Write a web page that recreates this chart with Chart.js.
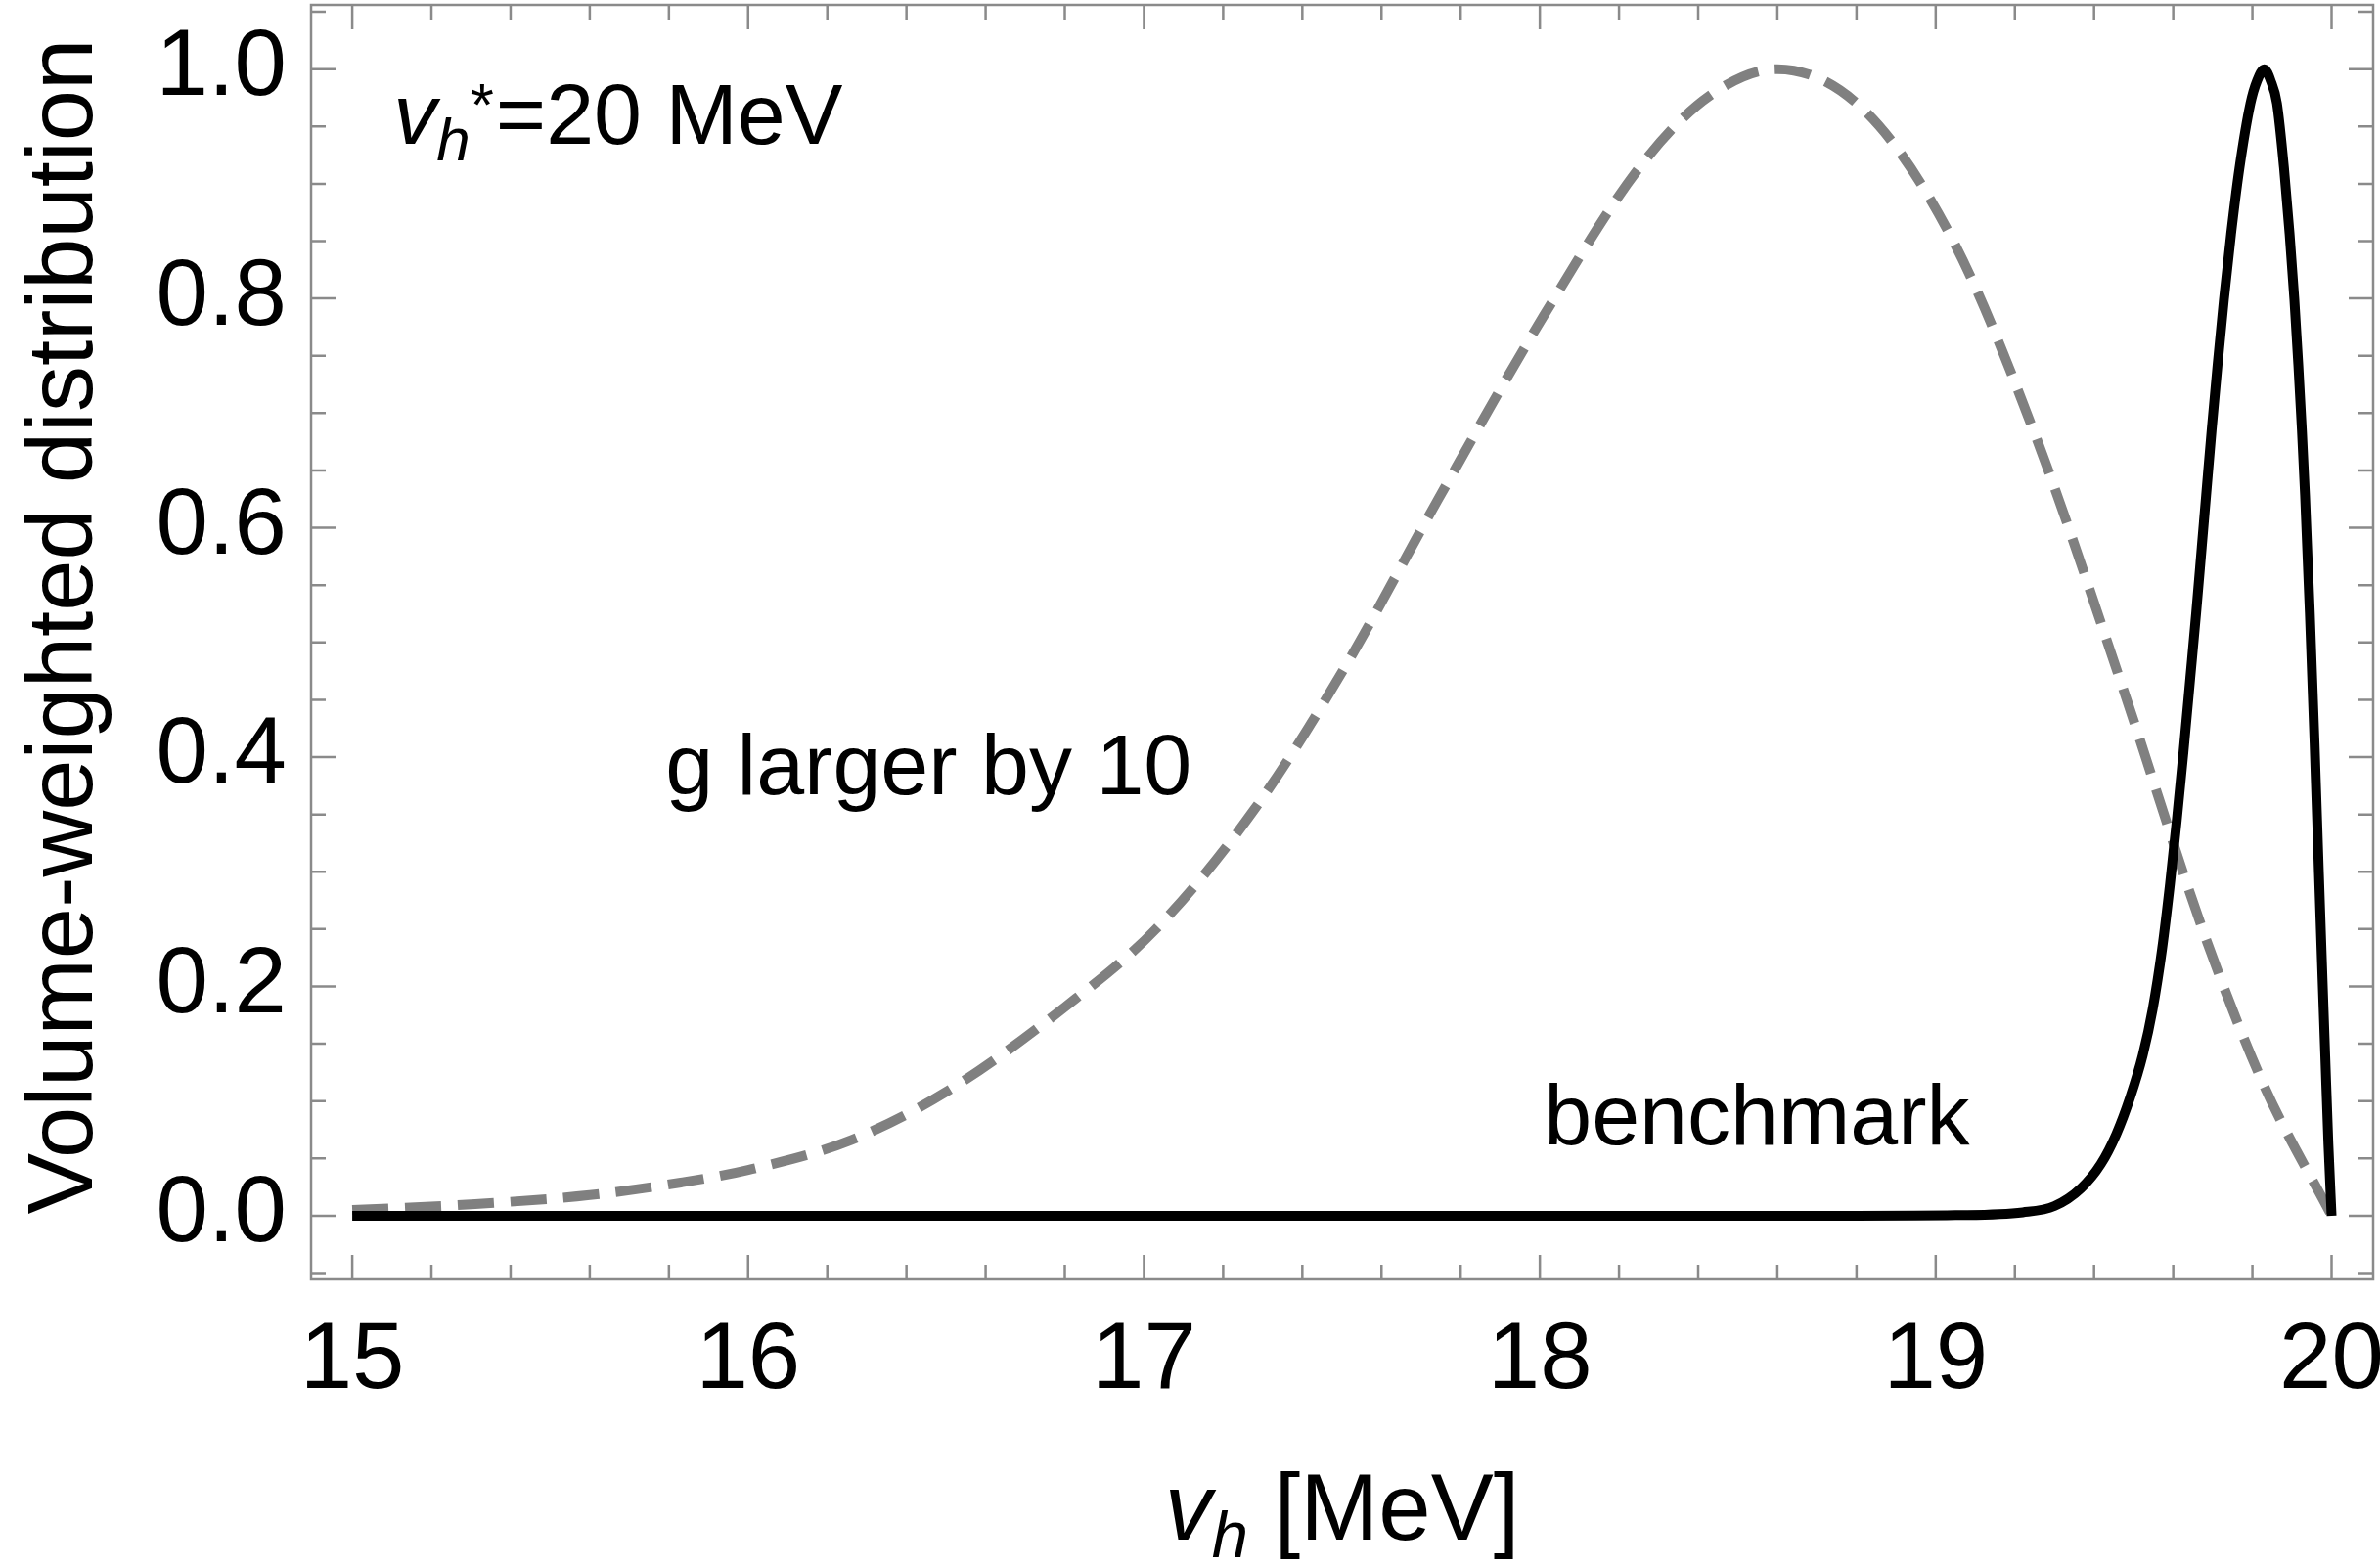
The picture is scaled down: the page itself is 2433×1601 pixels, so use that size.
<!DOCTYPE html>
<html>
<head>
<meta charset="utf-8">
<script src="https://cdn.jsdelivr.net/npm/chart.js@4.4.1/dist/chart.umd.min.js"></script>
<style>
	html, body { margin: 0; padding: 0; background: #fff; }
	#wrap { width: 2433px; height: 1601px; }
</style>
</head>
<body>
<div id="wrap"><canvas id="myChart" width="2433" height="1601"></canvas></div>
<script>
const FONT = '"Liberation Sans", Arial, Helvetica, sans-serif';

// axis ticks (major) and plot range
const xTickValues = [15, 16, 17, 18, 19, 20];
const yTickValues = [0, 0.2, 0.4, 0.6, 0.8, 1.0];
const xRange = [14.896, 20.105];
const yRange = [-0.0555, 1.056];

// benchmark (solid black)
const benchX = [15, 16, 17, 18, 18.8, 19.05, 19.22, 19.30, 19.367, 19.417, 19.456, 19.491, 19.523, 19.548, 19.572, 19.592, 19.609, 19.626, 19.643, 19.658, 19.672, 19.683, 19.697, 19.712, 19.728, 19.746, 19.767, 19.795, 19.812, 19.83, 19.846, 19.862, 19.880, 19.894, 19.906, 19.916, 19.925, 19.933, 19.945, 19.957, 19.968, 19.977, 19.984, 19.992, 20.0];
const benchY = [0, 0, 0, 0, 0, 0.0005, 0.003, 0.0085, 0.024, 0.045, 0.071, 0.103, 0.140, 0.180, 0.233, 0.290, 0.345, 0.405, 0.469, 0.526, 0.583, 0.628, 0.685, 0.742, 0.799, 0.856, 0.913, 0.970, 0.990, 1.0, 0.990, 0.970, 0.913, 0.856, 0.799, 0.742, 0.685, 0.628, 0.526, 0.412, 0.298, 0.207, 0.139, 0.062, 0];

// g larger by 10 (dashed grey)
const largerX = [15.0, 15.3, 15.6, 15.83, 16.0, 16.26, 16.5, 16.8, 17.03, 17.28, 17.5, 17.74, 18.01, 18.26, 18.43, 18.6, 18.82, 19.04, 19.25, 19.47, 19.68, 19.83, 20.0];
const largerY = [0.005, 0.010, 0.018, 0.029, 0.040, 0.066, 0.108, 0.182, 0.250, 0.355, 0.474, 0.623, 0.785, 0.918, 0.977, 1.0, 0.964, 0.853, 0.682, 0.463, 0.244, 0.113, 0.0];

const toPoints = (xs, ys) => xs.map((x, i) => ({ x: x, y: ys[i] }));

// draws a row of differently styled pieces of text, left to right
const drawRuns = (ctx, runs, x, y) => {
	runs.forEach((r) => {
		ctx.font = r.font;
		ctx.fillText(r.text, x, y + (r.dy || 0));
		x += ctx.measureText(r.text).width + (r.gap || 0);
	});
};
const runsWidth = (ctx, runs) => runs.reduce((w, r) => {
	ctx.font = r.font;
	return w + ctx.measureText(r.text).width + (r.gap || 0);
}, 0);

// Mathematica style frame with inward ticks on all four sides
const frameTicks = {
	id: 'frameTicks',
	beforeDatasetsDraw(chart) {
		const { ctx, chartArea: a, scales: { x, y } } = chart;
		ctx.save();
		ctx.strokeStyle = '#8a8a8a';
		ctx.lineWidth = 2.5;
		ctx.strokeRect(a.left, a.top, a.right - a.left, a.bottom - a.top);
		ctx.beginPath();
		for (let i = 0; i <= 25; i++) {
			const px = x.getPixelForValue(15 + i * 0.2);
			const len = i % 5 === 0 ? 25 : 15;
			ctx.moveTo(px, a.bottom); ctx.lineTo(px, a.bottom - len);
			ctx.moveTo(px, a.top); ctx.lineTo(px, a.top + len);
		}
		for (let i = -1; i <= 21; i++) {
			const py = y.getPixelForValue(i * 0.05);
			const len = i % 4 === 0 ? 25 : 15;
			ctx.moveTo(a.left, py); ctx.lineTo(a.left + len, py);
			ctx.moveTo(a.right, py); ctx.lineTo(a.right - len, py);
		}
		ctx.stroke();
		ctx.restore();
	}
};

const labels = {
	id: 'labels',
	afterDraw(chart) {
		const { ctx, chartArea: a, scales: { x, y } } = chart;
		ctx.save();
		ctx.fillStyle = '#000';
		ctx.textBaseline = 'alphabetic';
		ctx.textAlign = 'left';

		// v_h* = 20 MeV
		drawRuns(ctx, [
			{ text: 'v', font: 'italic 88px ' + FONT },
			{ text: 'h', font: 'italic 62px ' + FONT, dy: 17 },
			{ text: '*', font: '62px ' + FONT, dy: -19, gap: 2 },
			{ text: '=20 MeV', font: '88px ' + FONT }
		], x.getPixelForValue(15.104), y.getPixelForValue(0.935));

		ctx.font = '88px ' + FONT;
		ctx.fillText('g larger by 10', x.getPixelForValue(15.791), y.getPixelForValue(0.3677));
		ctx.fillText('benchmark', x.getPixelForValue(18.01), y.getPixelForValue(0.0623));

		// x axis title
		const xt = [
			{ text: 'v', font: 'italic 96px ' + FONT },
			{ text: 'h', font: 'italic 67px ' + FONT, dy: 18 },
			{ text: ' [MeV]', font: '96px ' + FONT }
		];
		const cx = (a.left + a.right) / 2;
		drawRuns(ctx, xt, cx - runsWidth(ctx, xt) / 2, 1574);

		// y axis title
		ctx.translate(94, (a.top + a.bottom) / 2 - 16);
		ctx.rotate(-Math.PI / 2);
		ctx.textAlign = 'center';
		ctx.font = '94px ' + FONT;
		ctx.fillText('Volume-weighted distribution', 0, 0);
		ctx.restore();
	}
};

const tickFont = { family: FONT, size: 96, lineHeight: 1 };

const ctx = document.getElementById('myChart').getContext('2d');
const myChart = new Chart(ctx, {
	type: 'line',
	data: {
		datasets: [{
			label: 'benchmark',
			data: toPoints(benchX, benchY),
			borderColor: '#000',
			borderWidth: 10,
			pointRadius: 0,
			cubicInterpolationMode: 'monotone',
			fill: false
		}, {
			label: 'g larger by 10',
			data: toPoints(largerX, largerY),
			borderColor: '#808080',
			borderWidth: 10,
			borderDash: [37, 17],
			borderCapStyle: 'butt',
			pointRadius: 0,
			cubicInterpolationMode: 'monotone',
			fill: false
		}]
	},
	options: {
		responsive: false,
		animation: false,
		devicePixelRatio: 1,
		layout: { padding: { left: 0, right: 7, top: 5, bottom: 0 } },
		plugins: {
			legend: { display: false },
			title: { display: false },
			tooltip: { enabled: false }
		},
		scales: {
			x: {
				type: 'linear',
				min: xRange[0],
				max: xRange[1],
				grid: { display: false },
				border: { display: false },
				afterBuildTicks: (s) => { s.ticks = xTickValues.map((v) => ({ value: v })); },
				afterFit: (s) => { s.height = 293; s.paddingLeft = 0; s.paddingRight = 0; },
				ticks: {
					font: tickFont,
					color: '#000',
					padding: 29,
					maxRotation: 0,
					autoSkip: false,
					callback: (v) => String(v)
				}
			},
			y: {
				type: 'linear',
				min: yRange[0],
				max: yRange[1],
				grid: { display: false },
				border: { display: false },
				afterBuildTicks: (s) => { s.ticks = yTickValues.map((v) => ({ value: v })); },
				afterFit: (s) => { s.width = 318; s.paddingTop = 0; s.paddingBottom = 0; },
				ticks: {
					font: tickFont,
					color: '#000',
					padding: 17,
					autoSkip: false,
					callback: (v) => v.toFixed(1)
				}
			}
		}
	},
	plugins: [frameTicks, labels]
});
</script>
</body>
</html>
